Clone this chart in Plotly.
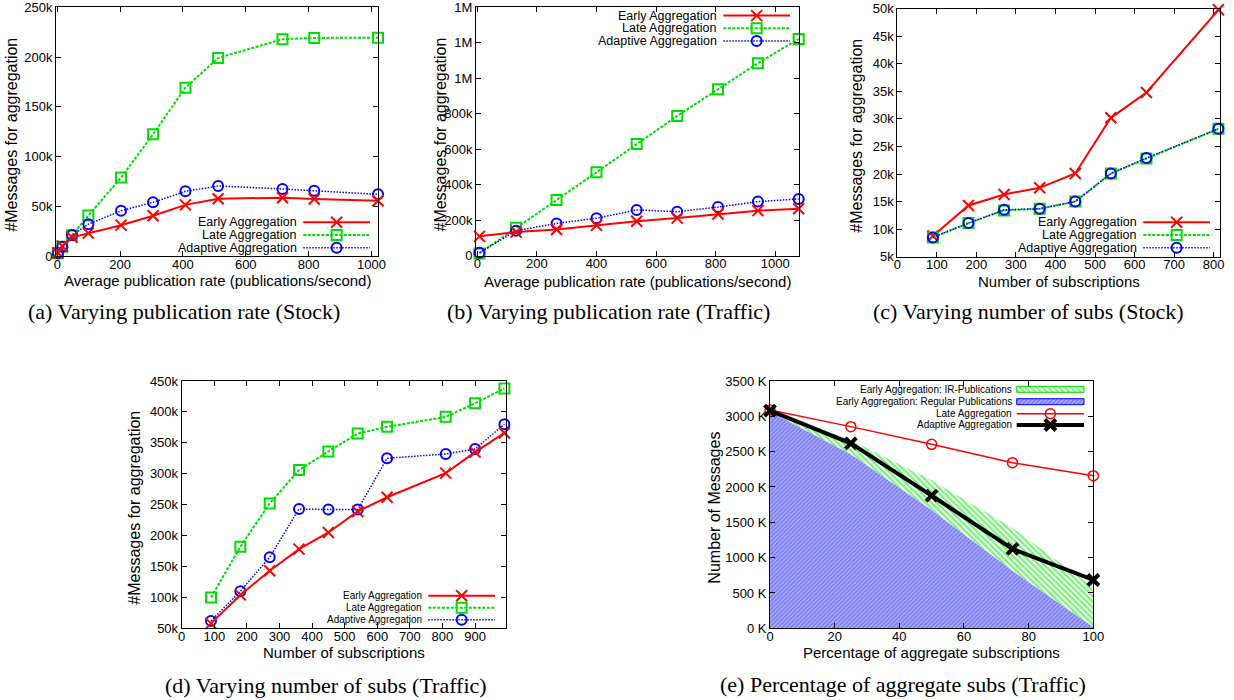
import plotly.graph_objects as go

# ---------------- data (values in thousands of messages) ----------------
# (a) Stock: varying publication rate
a_rate = [2, 16, 47, 99, 203, 305, 408, 512, 717, 818, 1021]
a_early = [3.3, 10.0, 18.8, 23.0, 31.0, 40.4, 51.4, 57.6, 58.6, 57.3, 55.5]
a_late = [2.7, 9.4, 20.8, 40.6, 78.8, 122.3, 169.2, 199.0, 218.0, 219.2, 219.5]
a_adapt = [2.7, 9.3, 21.0, 32.0, 45.5, 54.0, 65.0, 70.4, 67.4, 65.7, 62.0]

# (b) Traffic: varying publication rate
b_rate = [7, 130, 266, 400, 535, 671, 808, 942, 1079]
b_early = [109, 133, 148, 171, 194, 212, 235, 254, 265]
b_late = [13, 158, 314, 470, 630, 788, 938, 1085, 1222]
b_adapt = [17, 141, 182, 211, 258, 248, 274, 305, 320]

# (c) Stock: varying number of subscriptions
c_subs = [90, 180, 270, 360, 450, 540, 630, 812]
c_early = [8.75, 14.3, 16.3, 17.5, 20.1, 30.2, 34.8, 49.8]
c_late = [8.5, 11.1, 13.4, 13.7, 15.0, 20.1, 22.8, 28.2]
c_adapt = [8.5, 11.1, 13.5, 13.7, 15.0, 20.1, 22.9, 28.2]

# (d) Traffic: varying number of subscriptions
d_subs = [90, 180, 270, 360, 450, 540, 630, 810, 900, 990]
d_early = [58, 104, 143, 178, 205, 239, 262, 301, 335, 366]
d_late = [100, 182, 252, 306, 336, 365, 376, 392, 414, 438]
d_adapt = [62, 110, 165, 243, 242, 242, 325, 332, 340, 380]

# (e) Traffic: percentage of aggregate subscriptions (K messages)
e_pct = [0, 25, 50, 75, 100]
e_regular = [3070, 2462, 1675, 815, 20]
e_ir = [0, 200, 420, 605, 560]
e_late = [3090, 2854, 2604, 2344, 2160]
e_adapt = [3080, 2618, 1877, 1123, 684]

# tick labels
a_xticks = [0, 200, 400, 600, 800, 1000]
a_yticks = [0, 50, 100, 150, 200, 250]
a_ylabels = ["0", "50k", "100k", "150k", "200k", "250k"]
b_xticks = [0, 200, 400, 600, 800, 1000]
b_yticks = [0, 200, 400, 600, 800, 1000, 1200, 1400]
b_ylabels = ["0", "200k", "400k", "600k", "800k", "1M", "1M", "1M"]
c_xticks = [0, 100, 200, 300, 400, 500, 600, 700, 800]
c_yticks = [5, 10, 15, 20, 25, 30, 35, 40, 45, 50]
c_ylabels = ["5k", "10k", "15k", "20k", "25k", "30k", "35k", "40k", "45k", "50k"]
d_xticks = [0, 100, 200, 300, 400, 500, 600, 700, 800, 900]
d_yticks = [50, 100, 150, 200, 250, 300, 350, 400, 450]
d_ylabels = ["50k", "100k", "150k", "200k", "250k", "300k", "350k", "400k", "450k"]
e_xticks = [0, 20, 40, 60, 80, 100]
e_yticks = [0, 500, 1000, 1500, 2000, 2500, 3000, 3500]
e_ylabels = ["0 K", "500 K", "1000 K", "1500 K", "2000 K", "2500 K", "3000 K", "3500 K"]

names = ["Early Aggregation", "Late Aggregation", "Adaptive Aggregation"]
e_names = ["Early Aggregation: IR-Publications", "Early Aggregation: Regular Publications",
           "Late Aggregation", "Adaptive Aggregation"]
captions = ["(a) Varying publication rate (Stock)", "(b) Varying publication rate (Traffic)",
            "(c) Varying number of subs (Stock)", "(d) Varying number of subs (Traffic)",
            "(e) Percentage of aggregate subs (Traffic)"]
xtitles = ["Average publication rate (publications/second)",
           "Average publication rate (publications/second)",
           "Number of subscriptions", "Number of subscriptions",
           "Percentage of aggregate subscriptions"]
ytitles = ["#Messages for aggregation"] * 4 + ["Number of Messages"]

# ---------------- layout helpers ----------------
W, H = 1234, 700
SANS = "Liberation Sans, Arial, sans-serif"
SERIF = "Liberation Serif, Times New Roman, serif"
RED, GREEN, BLUE = "#ff0000", "#00dd00", "#0000ff"


def fx(px):
    return px / W


def fy(py):
    return 1 - py / H


# plot boxes in pixels: left, top, right, bottom
boxes = [(56, 7.3, 378, 256), (476, 7.3, 799.3, 255.7), (897.3, 8.7, 1220, 256.7),
         (181.7, 381, 505.7, 628.3), (770, 381, 1093.3, 628.3)]
xranges = [[-4, 1021], [-4.5, 1081], [0, 816], [0, 994], [0, 100]]
yranges = [[0, 250], [0, 1400], [5, 50], [50, 450], [0, 3500]]

STYLE = {
    "early": dict(line=dict(color=RED, width=2),
                  marker=dict(symbol="x-thin-open", size=11, color=RED, line=dict(color=RED, width=2))),
    "late": dict(line=dict(color=GREEN, width=2, dash="3px,1.5px"),
                 marker=dict(symbol="square-open", size=10, color=GREEN, line=dict(color=GREEN, width=2))),
    "adapt": dict(line=dict(color=BLUE, width=1.5, dash="1.5px,1.5px"),
                  marker=dict(symbol="circle-open", size=10, color=BLUE, line=dict(color=BLUE, width=2))),
    "elate": dict(line=dict(color=RED, width=1.5),
                  marker=dict(symbol="circle-open", size=10, color=RED, line=dict(color=RED, width=1.5))),
    "eadapt": dict(line=dict(color="black", width=4),
                   marker=dict(symbol="x-thin-open", size=11, color="black", line=dict(color="black", width=4))),
}
PAT_IR = dict(shape="\\", fgcolor="#00e000", bgcolor="white", size=4, solidity=0.6)
PAT_REG = dict(shape="/", fgcolor="#0000ee", bgcolor="white", size=3, solidity=0.85)

fig = go.Figure()


def axn(i):
    return ("x" if i == 0 else f"x{i+1}"), ("y" if i == 0 else f"y{i+1}")


def add_series(i, x, y, key):
    xa, ya = axn(i)
    st = STYLE[key]
    fig.add_trace(go.Scatter(x=x, y=y, mode="lines+markers", line=st["line"], marker=st["marker"],
                             xaxis=xa, yaxis=ya, cliponaxis=False, showlegend=False, hoverinfo="skip"))


panels = [
    (a_rate, a_early, a_late, a_adapt),
    (b_rate, b_early, b_late, b_adapt),
    (c_subs, c_early, c_late, c_adapt),
    (d_subs, d_early, d_late, d_adapt),
]

# (e) stacked hatched areas first so lines are on top
fig.add_trace(go.Scatter(x=e_pct, y=e_regular, mode="lines", line=dict(width=0, color=BLUE),
                         stackgroup="e", fillpattern=PAT_REG, fillcolor="white",
                         xaxis="x5", yaxis="y5", showlegend=False, hoverinfo="skip"))
fig.add_trace(go.Scatter(x=e_pct, y=e_ir, mode="lines", line=dict(width=0, color=GREEN),
                         stackgroup="e", fillpattern=PAT_IR, fillcolor="white",
                         xaxis="x5", yaxis="y5", showlegend=False, hoverinfo="skip"))

for i, (x, e, l, a) in enumerate(panels):
    if i == 2:
        add_series(i, x, e, "early")
        add_series(i, x, l, "late")
        add_series(i, x, a, "adapt")
    else:
        add_series(i, x, l, "late")
        add_series(i, x, a, "adapt")
        add_series(i, x, e, "early")

add_series(4, e_pct, e_late, "elate")
add_series(4, e_pct, e_adapt, "eadapt")

annotations = []


def data_xy(i, px, py):
    l, t, r, b = boxes[i]
    xr, yr = xranges[i], yranges[i]
    return (xr[0] + (px - l) / (r - l) * (xr[1] - xr[0]),
            yr[0] + (b - py) / (b - t) * (yr[1] - yr[0]))


def legend(i, rows, text_right, lx0, lx1, fsize, entries):
    xa, ya = axn(i)
    for row, (label, kind) in zip(rows, entries):
        annotations.append(dict(x=fx(text_right), y=fy(row), xref="paper", yref="paper",
                                text=label, showarrow=False, xanchor="right", yanchor="middle",
                                borderpad=0,
                                font=dict(family=SANS, size=fsize, color="black")))
        if kind in ("ir", "reg"):
            x0, y0 = data_xy(i, lx0, row + 3)
            x1, y1 = data_xy(i, lx1, row - 3)
            pat = PAT_IR if kind == "ir" else PAT_REG
            col = GREEN if kind == "ir" else BLUE
            fig.add_trace(go.Scatter(x=[x0, x1, x1, x0, x0], y=[y0, y0, y1, y1, y0], mode="lines",
                                     fill="toself", fillpattern=pat, fillcolor="white",
                                     line=dict(color=col, width=1), xaxis=xa, yaxis=ya,
                                     cliponaxis=False, showlegend=False, hoverinfo="skip"))
        else:
            st = STYLE[kind]
            x0, y0 = data_xy(i, lx0, row)
            x1, _ = data_xy(i, lx1, row)
            xm, _ = data_xy(i, (lx0 + lx1) / 2, row)
            fig.add_trace(go.Scatter(x=[x0, x1], y=[y0, y0], mode="lines", line=st["line"],
                                     xaxis=xa, yaxis=ya, cliponaxis=False, showlegend=False,
                                     hoverinfo="skip"))
            fig.add_trace(go.Scatter(x=[xm], y=[y0], mode="markers", marker=st["marker"],
                                     xaxis=xa, yaxis=ya, cliponaxis=False, showlegend=False,
                                     hoverinfo="skip"))


kinds = ["early", "late", "adapt"]
legend(0, [222.3, 235, 247.7], 297.7, 303.3, 370, 12.5, list(zip(names, kinds)))
legend(1, [15.6, 28.3, 41], 718.3, 723.3, 790, 12.5, list(zip(names, kinds)))
legend(2, [222.3, 235, 247.7], 1138.3, 1143.3, 1210, 12.5, list(zip(names, kinds)))
legend(3, [595.7, 607.7, 619.7], 423.3, 428.3, 495, 10, list(zip(names, kinds)))
legend(4, [389.3, 401.7, 413.7, 425], 1013.3, 1016.7, 1084, 10,
       list(zip(e_names, ["ir", "reg", "elate", "eadapt"])))

# axes
xticks = [a_xticks, b_xticks, c_xticks, d_xticks, e_xticks]
yticks = [(a_yticks, a_ylabels), (b_yticks, b_ylabels), (c_yticks, c_ylabels),
          (d_yticks, d_ylabels), (e_yticks, e_ylabels)]
layout = dict(width=W, height=H, margin=dict(l=0, r=0, t=0, b=0, pad=0, autoexpand=False),
              paper_bgcolor="white", plot_bgcolor="white", showlegend=False)
for i in range(5):
    l, t, r, b = boxes[i]
    xk = "xaxis" if i == 0 else f"xaxis{i+1}"
    yk = "yaxis" if i == 0 else f"yaxis{i+1}"
    xa, ya = axn(i)
    common = dict(showgrid=False, zeroline=False, showline=True, linecolor="black", linewidth=1,
                  mirror="ticks", ticks="inside", ticklen=5, tickcolor="black", tickwidth=1,
                  automargin=False, ticklabeloverflow="allow",
                  tickfont=dict(family=SANS, size=13, color="black"))
    layout[xk] = dict(common, domain=[fx(l), fx(r)], range=xranges[i], anchor=ya,
                      tickvals=xticks[i], ticktext=[str(v) for v in xticks[i]],
                      ticklabelstandoff=-4)
    layout[yk] = dict(common, domain=[fy(b), fy(t)], range=yranges[i], anchor=xa,
                      tickvals=yticks[i][0], ticktext=yticks[i][1])

# axis titles and captions
xtitle_y = [280.7, 281, 281.7, 652.7, 652.7]
ytitle_x = [12, 440, 857, 135, 715]
cap_pos = [(183.5, 311), (608, 311), (1028, 311), (326, 685), (902.5, 684)]
for i in range(5):
    l, t, r, b = boxes[i]
    annotations.append(dict(x=fx((l + r) / 2), y=fy(xtitle_y[i]), xref="paper", yref="paper",
                            text=xtitles[i], showarrow=False, xanchor="center", yanchor="middle",
                            font=dict(family=SANS, size=15, color="black")))
    annotations.append(dict(x=fx(ytitle_x[i]), y=fy((t + b) / 2 + 3), xref="paper", yref="paper",
                            text=ytitles[i], showarrow=False, xanchor="center", yanchor="middle",
                            textangle=-90, font=dict(family=SANS, size=16, color="black")))
    annotations.append(dict(x=fx(cap_pos[i][0]), y=fy(cap_pos[i][1]), xref="paper", yref="paper",
                            text=captions[i], showarrow=False, xanchor="center", yanchor="middle",
                            font=dict(family=SERIF, size=22, color="black")))

layout["annotations"] = annotations
fig.update_layout(**layout)
fig.write_html("out.html", config={"displayModeBar": False},
               post_script="document.body.style.margin='0';document.body.style.padding='0';"
                           "document.body.style.overflow='hidden';")
